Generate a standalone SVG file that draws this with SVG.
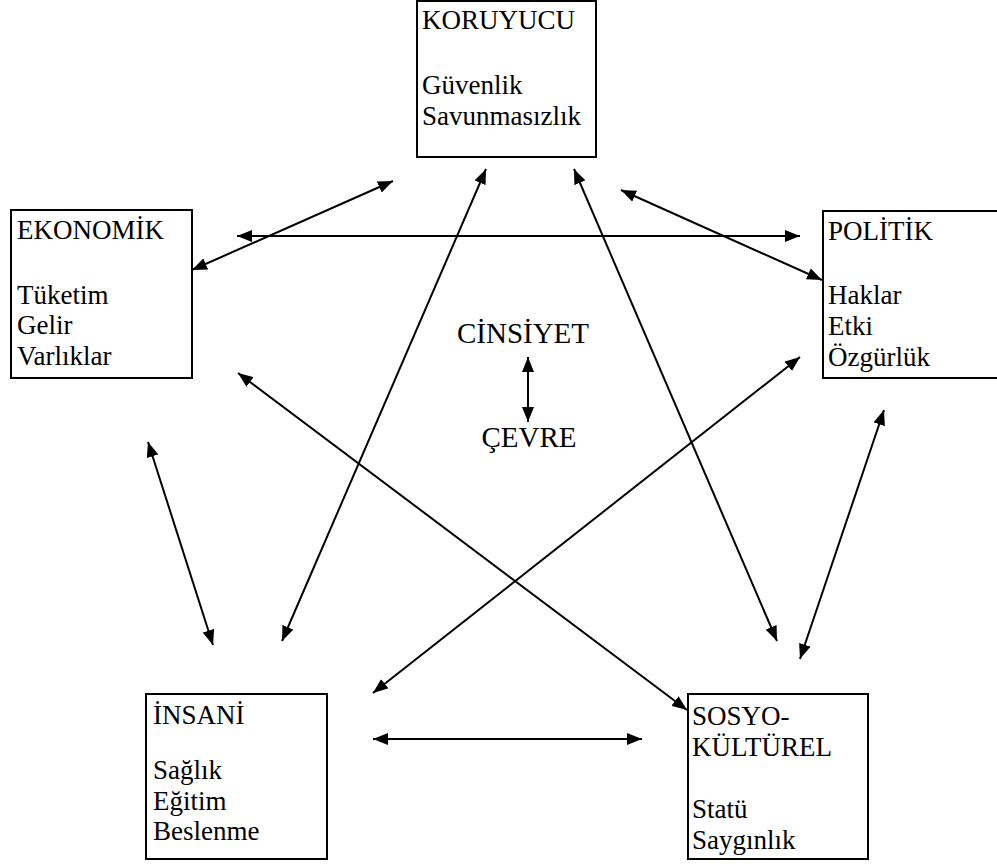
<svg xmlns="http://www.w3.org/2000/svg" width="997" height="867" viewBox="0 0 997 867">
<defs>
<marker id="ah" viewBox="0 0 15 12" refX="15" refY="6" markerWidth="15" markerHeight="12" markerUnits="userSpaceOnUse" orient="auto-start-reverse"><path d="M0,0 L15,6 L0,12 z" fill="#000"/></marker>
<style>
.box{fill:#fff;stroke:#000;stroke-width:2}
.t{font-family:'Liberation Serif','Times New Roman',serif;font-size:27px;fill:#000}
.big{font-size:29px}
.c{stroke:#000;stroke-width:2;fill:none;marker-start:url(#ah);marker-end:url(#ah)}
</style>
</defs>
<rect width="997" height="867" fill="#fff"/>
<g id="connectors">
<line class="c" x1="192" y1="270" x2="393" y2="181"/>
<line class="c" x1="237" y1="236" x2="800" y2="236"/>
<line class="c" x1="621" y1="190" x2="822" y2="280"/>
<line class="c" x1="486" y1="169" x2="282" y2="641"/>
<line class="c" x1="574" y1="169" x2="777" y2="641"/>
<line class="c" x1="238" y1="373" x2="687" y2="710"/>
<line class="c" x1="800" y1="357" x2="373" y2="693"/>
<line class="c" x1="148" y1="442" x2="213" y2="645"/>
<line class="c" x1="884" y1="410" x2="800" y2="659"/>
<line class="c" x1="373" y1="739" x2="642" y2="739"/>
<line class="c" x1="528" y1="357" x2="528" y2="422"/>
</g>
<g id="koruyucu" class="t">
<rect class="box" x="417" y="1" width="179" height="156"/>
<text x="422" y="29">KORUYUCU</text>
<text x="422" y="94">Güvenlik</text>
<text x="422" y="125">Savunmasızlık</text>
</g>
<g id="ekonomik" class="t">
<rect class="box" x="11" y="210" width="181" height="168"/>
<text x="17" y="239">EKONOMİK</text>
<text x="17" y="304">Tüketim</text>
<text x="17" y="334">Gelir</text>
<text x="17" y="365">Varlıklar</text>
</g>
<g id="politik" class="t">
<rect class="box" x="823" y="211" width="190" height="167"/>
<text x="828" y="240">POLİTİK</text>
<text x="828" y="304">Haklar</text>
<text x="828" y="335">Etki</text>
<text x="828" y="366">Özgürlük</text>
</g>
<g id="insani" class="t">
<rect class="box" x="146" y="694" width="181" height="165"/>
<text x="153" y="724">İNSANİ</text>
<text x="153" y="779">Sağlık</text>
<text x="153" y="810">Eğitim</text>
<text x="153" y="840">Beslenme</text>
</g>
<g id="sosyokulturel" class="t">
<rect class="box" x="688" y="694" width="180" height="165"/>
<text x="692" y="725">SOSYO-</text>
<text x="692" y="756">KÜLTÜREL</text>
<text x="692" y="818">Statü</text>
<text x="692" y="849">Saygınlık</text>
</g>
<g id="cinsiyet" class="t big">
<text x="523" y="343" text-anchor="middle">CİNSİYET</text>
</g>
<g id="cevre" class="t big">
<text x="529" y="447" text-anchor="middle">ÇEVRE</text>
</g>
</svg>
